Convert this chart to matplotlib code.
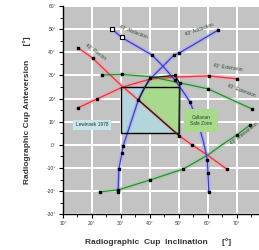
import matplotlib
matplotlib.use("Agg")
import matplotlib.pyplot as plt
from matplotlib.patches import Polygon, Rectangle
from matplotlib.ticker import MultipleLocator

plt.rcParams['font.family'] = ['Liberation Sans', 'DejaVu Sans']

# ---- data ----
blue_a_x = [26.9, 30.3, 40.7, 44.5, 48.6, 52.0, 53.8, 56.5, 58.5, 59.8, 60.0, 60.3]
blue_a_y = [50.0, 46.4, 38.8, 34.0, 28.0, 22.0, 18.5, 10.0, 1.0, -6.5, -12.0, -20.3]
blue_a_mk_x = [40.7, 48.6, 53.8, 59.8, 60.0, 60.3]
blue_a_mk_y = [38.8, 28.0, 18.5, -6.5, -12.0, -20.3]
blue_a_open_x = [26.9, 30.3]
blue_a_open_y = [50.0, 46.4]

blue_b_x = [63.4, 50.0, 48.3, 44.5, 40.3, 37.5, 35.9, 33.0, 30.7, 30.3, 29.3, 29.0]
blue_b_y = [49.5, 39.6, 38.8, 34.0, 28.8, 23.5, 19.0, 8.0, -0.7, -3.7, -10.5, -20.3]
blue_b_mk_x = [63.4, 50.0, 48.3, 30.7, 30.3, 29.3, 29.0]
blue_b_mk_y = [49.5, 39.6, 38.8, -0.7, -3.7, -10.5, -20.3]

red_a_x = [15.2, 20.3, 26.0, 30.3, 36.0, 43.0, 50.0, 54.5, 60.0, 66.5]
red_a_y = [42.0, 37.4, 30.5, 25.5, 19.4, 11.8, 4.0, 0.0, -4.6, -10.5]
red_a_mk_x = [15.2, 20.3, 54.5, 66.5]
red_a_mk_y = [42.0, 37.4, 0.0, -10.5]

red_b_x = [15.2, 21.7, 30.3, 33.1, 40.0, 49.3, 60.3, 70.0]
red_b_y = [16.0, 19.8, 24.8, 25.9, 28.4, 29.3, 29.8, 28.5]
red_b_mk_x = [15.2, 21.7, 60.3, 70.0]
red_b_mk_y = [16.0, 19.8, 29.8, 28.5]

green_a_x = [23.4, 30.3, 40.0, 50.3, 60.0, 75.2]
green_a_y = [30.2, 30.4, 29.5, 26.8, 24.2, 15.5]
green_a_mk_x = [23.4, 30.3, 60.0, 75.2]
green_a_mk_y = [30.2, 30.4, 24.2, 15.5]

green_b_x = [22.8, 29.0, 40.0, 51.4, 60.0, 64.8, 70.0, 74.5]
green_b_y = [-20.3, -19.5, -15.2, -10.5, -4.4, 0.0, 4.3, 8.6]
green_b_mk_x = [22.8, 29.0, 40.0, 51.4, 70.0, 74.5]
green_b_mk_y = [-20.3, -19.5, -15.2, -10.5, 4.3, 8.6]

lewinnek_x = [30, 50]
lewinnek_y = [5, 25]

callanan_x = [40.0, 48.6, 50.3, 50.0, 36.0]
callanan_y = [29.0, 30.0, 26.6, 4.0, 19.4]

line_labels = ["40° Abduction", "40° Adduction", "40° Flexion",
               "40° Extension", "40° Extension", "40° Anteversion"]
label_x = [34.3, 57.2, 21.4, 66.9, 71.4, 72.4]
label_y = [49.0, 49.7, 40.2, 33.4, 23.3, 4.7]
label_rot = [-21, 20, -36, -8, -20, 38]

x_ticks = [10, 20, 30, 40, 50, 60, 70]
y_ticks = [-30, -20, -10, 0, 10, 20, 30, 40, 50, 60]

# ---- figure ----
fig = plt.figure(figsize=(2.59, 2.50), dpi=100)
ax = fig.add_axes([0.243, 0.143, 0.757, 0.833])
ax.set_facecolor('#c3c3c3')
ax.set_xlim(10, 77.6)
ax.set_ylim(-30, 60)

ax.xaxis.set_minor_locator(MultipleLocator(5))
ax.yaxis.set_minor_locator(MultipleLocator(5))
ax.set_xticks(x_ticks)
ax.set_yticks(y_ticks)
ax.grid(True, which='major', color='white', lw=1.4)
ax.set_axisbelow(True)
ax.set_xticklabels([f"{v}°" for v in x_ticks], fontsize=3.6, color='#333333')
ax.set_yticklabels([f"{v}°" for v in y_ticks], fontsize=3.6, color='#333333')
ax.tick_params(which='major', length=3, width=0.8, direction='out', pad=2)
ax.tick_params(which='minor', length=2, width=0.6, direction='out')
for s in ['top', 'right']:
    ax.spines[s].set_visible(False)
for s in ['left', 'bottom']:
    ax.spines[s].set_linewidth(1.0)

# Lewinnek box
ax.add_patch(Rectangle((lewinnek_x[0], lewinnek_y[0]), lewinnek_x[1] - lewinnek_x[0],
                       lewinnek_y[1] - lewinnek_y[0], facecolor='#b3d6dc',
                       edgecolor='none', zorder=1))
# Callanan region
ax.add_patch(Polygon(list(zip(callanan_x, callanan_y)), closed=True,
                     facecolor='#a9d98c', edgecolor='none', zorder=1.5))

def draw(xs, ys, col, halo):
    ax.plot(xs, ys, color=halo, lw=3.2, alpha=0.55, zorder=2,
            solid_capstyle='round', solid_joinstyle='round')
    ax.plot(xs, ys, color=col, lw=0.9, zorder=3, solid_joinstyle='round')

draw(red_a_x, red_a_y, '#e8343a', '#f2a0a8')
draw(red_b_x, red_b_y, '#e8343a', '#f2a0a8')
draw(green_a_x, green_a_y, '#2f8a3a', '#9ccc9c')
draw(green_b_x, green_b_y, '#2f8a3a', '#9ccc9c')
draw(blue_a_x, blue_a_y, '#3b3bd6', '#a6a6ee')
draw(blue_b_x, blue_b_y, '#3b3bd6', '#a6a6ee')

# Lewinnek outline and Callanan outline
ax.add_patch(Rectangle((lewinnek_x[0], lewinnek_y[0]), lewinnek_x[1] - lewinnek_x[0],
                       lewinnek_y[1] - lewinnek_y[0], facecolor='none',
                       edgecolor='black', lw=1.0, zorder=4))
ax.add_patch(Polygon(list(zip(callanan_x, callanan_y)), closed=True,
                     facecolor='none', edgecolor='#1a2a1a', lw=1.0, zorder=4))

for mx, my in [(blue_a_mk_x, blue_a_mk_y), (blue_b_mk_x, blue_b_mk_y),
               (red_a_mk_x, red_a_mk_y), (red_b_mk_x, red_b_mk_y),
               (green_a_mk_x, green_a_mk_y), (green_b_mk_x, green_b_mk_y),
               (callanan_x, callanan_y)]:
    ax.plot(mx, my, ls='none', marker='s', ms=1.9, color='black', zorder=5)
ax.plot(blue_a_open_x, blue_a_open_y, ls='none', marker='s', ms=3.0,
        mfc='white', mec='black', mew=0.8, zorder=5)

for t, x, y, r in zip(line_labels, label_x, label_y, label_rot):
    ax.text(x, y, t, fontsize=3.4, rotation=r, color='#2f4a30',
            ha='center', va='center', zorder=6)

ax.text(20.0, 8.6, "Lewinnek 1978", fontsize=3.4, color='#203030',
        ha='center', va='center', zorder=6,
        bbox=dict(boxstyle='square,pad=0.6', facecolor='#c6e6ea', edgecolor='none'))
ax.text(57.5, 10.5, "Callanan\nSafe Zone", fontsize=3.4, color='#205020',
        ha='center', va='center', zorder=6, linespacing=1.1,
        bbox=dict(boxstyle='square,pad=1.3', facecolor='#a9d98c', edgecolor='none'))

fig.text(0.61, 0.032, "Radiographic  Cup  Inclination      [°]", fontsize=6,
         fontweight='bold', color='#333333', ha='center', va='center')
fig.text(0.105, 0.56, "Radiographic Cup Anteversion      [°]", fontsize=6,
         fontweight='bold', color='#333333', ha='center', va='center', rotation=90)

fig.savefig("out.png", dpi=100)
